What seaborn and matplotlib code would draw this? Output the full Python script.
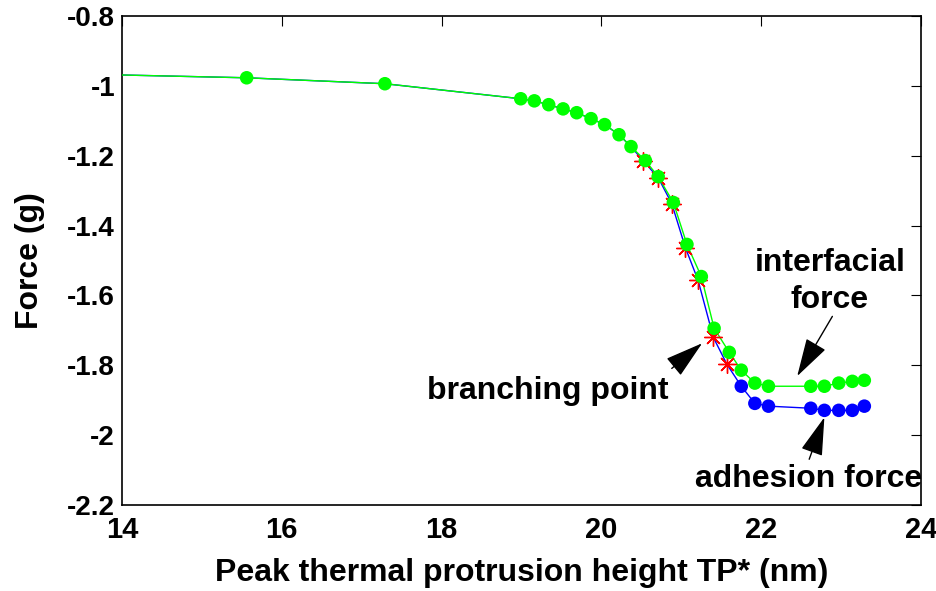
import matplotlib
matplotlib.use("Agg")
import matplotlib.pyplot as plt
import seaborn as sns
import numpy as np
import pandas as pd

# ---- data ----
green_x = [14.0, 15.56, 17.29, 18.99, 19.16, 19.34, 19.52, 19.69, 19.87, 20.04, 20.22, 20.37,
           20.55, 20.71, 20.90, 21.07, 21.25, 21.41, 21.60, 21.75, 21.92, 22.09, 22.62,
           22.79, 22.97, 23.14, 23.29]
green_y = [-0.969, -0.977, -0.994, -1.037, -1.043, -1.054, -1.066, -1.077, -1.094, -1.111, -1.140, -1.174,
           -1.214, -1.260, -1.334, -1.454, -1.546, -1.694, -1.763, -1.814, -1.851, -1.860, -1.860,
           -1.860, -1.851, -1.846, -1.843]

blue_x = [14.0, 15.56, 17.29, 18.99, 19.16, 19.34, 19.52, 19.69, 19.87, 20.04, 20.22, 20.37,
          20.52, 20.71, 20.88, 21.05, 21.21, 21.40, 21.57, 21.75, 21.92, 22.09, 22.62,
          22.79, 22.97, 23.14, 23.29]
blue_y = [-0.969, -0.977, -0.994, -1.037, -1.043, -1.054, -1.066, -1.077, -1.094, -1.111, -1.140, -1.174,
          -1.214, -1.263, -1.337, -1.463, -1.557, -1.720, -1.797, -1.860, -1.909, -1.917, -1.923,
          -1.929, -1.929, -1.929, -1.917]

star_x = [20.52, 20.71, 20.88, 21.05, 21.21, 21.40, 21.57]
star_y = [-1.214, -1.263, -1.337, -1.463, -1.557, -1.720, -1.797]

x_ticks = [14, 16, 18, 20, 22, 24]
y_ticks = [-2.2, -2, -1.8, -1.6, -1.4, -1.2, -1, -0.8]
y_tick_labels = ["-2.2", "-2", "-1.8", "-1.6", "-1.4", "-1.2", "-1", "-0.8"]

# ---- plotting ----
sns.set_style("white")
plt.rcParams['font.family'] = ['Liberation Sans', 'DejaVu Sans']
plt.rcParams['font.weight'] = 'bold'
plt.rcParams['text.color'] = 'black'
plt.rcParams['axes.labelcolor'] = 'black'
plt.rcParams['xtick.color'] = 'black'
plt.rcParams['ytick.color'] = 'black'

fig = plt.figure(figsize=(9.37, 5.91), dpi=100)
ax = fig.add_axes([0.1302, 0.1455, 0.983 - 0.1302, 0.973 - 0.1455])

gdf = pd.DataFrame({"x": green_x, "y": green_y})
bdf = pd.DataFrame({"x": blue_x, "y": blue_y})
sdf = pd.DataFrame({"x": star_x, "y": star_y})

# blue line (adhesion) underneath
sns.lineplot(data=bdf, x="x", y="y", sort=False, color="#0000ff", lw=1.0, ax=ax, zorder=2)
# green line (interfacial)
sns.lineplot(data=gdf, x="x", y="y", sort=False, color="#00ff00", lw=1.0, ax=ax, zorder=3)
# red asterisks at branching points
ax.plot(sdf["x"], sdf["y"], ls="none", marker=(8, 2, 0), ms=13, mec="#ff0000", mew=1.0, zorder=4)
# blue markers (only the branched part)
bm = bdf.iloc[19:]
sns.scatterplot(data=bm, x="x", y="y", color="#0000ff", s=95, edgecolor="none", ax=ax, zorder=5)
# green markers (skip the line start at the left edge)
gm = gdf.iloc[1:]
sns.scatterplot(data=gm, x="x", y="y", color="#00ff00", s=95, edgecolor="none", ax=ax, zorder=6)

ax.set_xlim(14, 24)
ax.set_ylim(-2.2, -0.8)
ax.set_xticks(x_ticks)
ax.set_xticklabels([str(t) for t in x_ticks], fontsize=21, fontweight='bold')
ax.set_yticks(y_ticks)
ax.set_yticklabels(y_tick_labels, fontsize=20, fontweight='bold')
ax.tick_params(direction='in', length=7, width=0.8, top=True, right=True, pad=5, colors='black')
ax.tick_params(axis='x', pad=8)
for s in ax.spines.values():
    s.set_visible(True)
    s.set_color('black')
    s.set_linewidth(1.2)

ax.set_xlabel("Peak thermal protrusion height TP* (nm)", fontsize=23, fontweight='bold', labelpad=10)
ax.set_ylabel("Force (g)", fontsize=23, fontweight='bold', labelpad=16)

arrow = dict(arrowstyle='-|>,head_length=1.1,head_width=0.32', color='black', lw=1.0,
             shrinkA=0, shrinkB=0, mutation_scale=22)
ax.annotate("", xy=(21.26, -1.737), xytext=(20.88, -1.809), arrowprops=arrow)
ax.text(19.33, -1.875, "branching point", ha='center', va='center', fontsize=23, fontweight='bold')

ax.annotate("", xy=(22.45, -1.831), xytext=(22.89, -1.66), arrowprops=arrow)
ax.text(22.86, -1.56, "interfacial\nforce", ha='center', va='center', fontsize=23, fontweight='bold',
        linespacing=1.3)

ax.annotate("", xy=(22.79, -1.949), xytext=(22.60, -2.069), arrowprops=arrow)
ax.text(22.59, -2.125, "adhesion force", ha='center', va='center', fontsize=23, fontweight='bold')

fig.savefig("out.png", dpi=100)
